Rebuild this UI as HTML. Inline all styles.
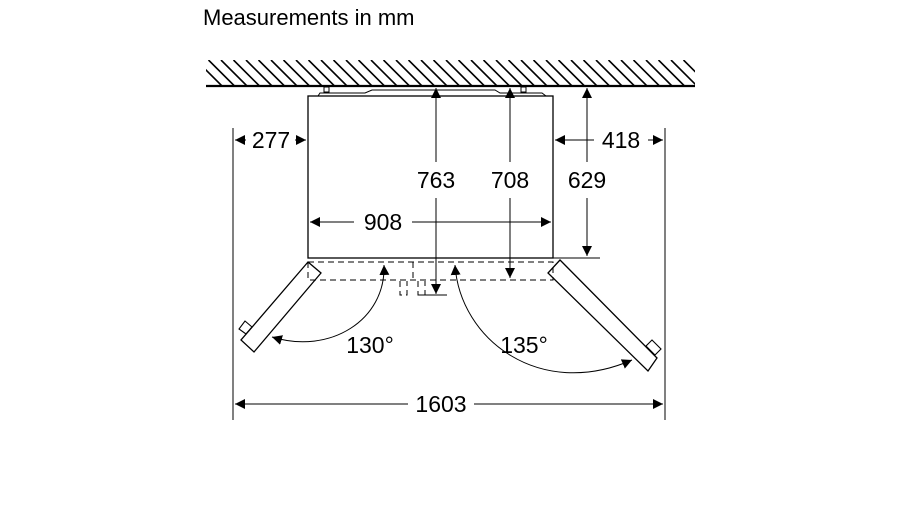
<!DOCTYPE html>
<html><head><style>body{margin:0;background:#fff}svg{display:block}</style></head><body>
<svg width="900" height="506" viewBox="0 0 900 506" xmlns="http://www.w3.org/2000/svg" font-family="Liberation Sans, sans-serif">
<defs>
<marker id="a" viewBox="0 0 10 10" refX="10" refY="5" markerWidth="10" markerHeight="10" markerUnits="userSpaceOnUse" orient="auto-start-reverse"><path d="M0,0 L10,5 L0,10z" fill="#000"/></marker>
<clipPath id="c"><rect x="206" y="60" width="489" height="26"/></clipPath>
</defs>
<text x="203" y="25" font-size="22">Measurements in mm</text>
<g clip-path="url(#c)" stroke="#000" stroke-width="1.6">
<path d="M196,60l26,26M208.5,60l26,26M221,60l26,26M233.5,60l26,26M246,60l26,26M258.5,60l26,26M271,60l26,26M283.5,60l26,26M296,60l26,26M308.5,60l26,26M321,60l26,26M333.5,60l26,26M346,60l26,26M358.5,60l26,26M371,60l26,26M383.5,60l26,26M396,60l26,26M408.5,60l26,26M421,60l26,26M433.5,60l26,26M446,60l26,26M458.5,60l26,26M471,60l26,26M483.5,60l26,26M496,60l26,26M508.5,60l26,26M521,60l26,26M533.5,60l26,26M546,60l26,26M558.5,60l26,26M571,60l26,26M583.5,60l26,26M596,60l26,26M608.5,60l26,26M621,60l26,26M633.5,60l26,26M646,60l26,26M658.5,60l26,26M671,60l26,26M683.5,60l26,26"/>
</g>
<g fill="none" stroke="#000">
<line x1="206" y1="86" x2="695" y2="86" stroke-width="2.2"/>
<rect x="308" y="96" width="245" height="162" stroke-width="1.3"/>
<path d="M318,96 L320,93 L365,93 L372,90 L495,90 L500,93 L542,93 L546,96" stroke-width="1"/>
<rect x="324" y="87" width="5" height="5" stroke-width="1"/>
<rect x="521" y="87" width="5" height="5" stroke-width="1"/>
<g stroke-dasharray="6,4" stroke-width="1">
<rect x="308" y="262" width="245" height="18"/>
<line x1="413" y1="262" x2="413" y2="280"/>
<path d="M400,281v14h7v-14M418,281v14h7v-14"/>
</g>
<polygon points="308,262 321,273 254,352 241,340" stroke-width="1.3"/>
<polygon points="252,327 246,334 239,329 245,321" stroke-width="1.1"/>
<polygon points="560,260 548,273 648,371 657,358" stroke-width="1.3"/>
<polygon points="646,346 655,355 661,349 652,340" stroke-width="1.1"/>
<g stroke-width="1">
<line x1="233" y1="128" x2="233" y2="420"/>
<line x1="665" y1="128" x2="665" y2="420"/>
<line x1="553" y1="258" x2="600" y2="258"/>
<line x1="420" y1="295" x2="447" y2="295"/>
<line x1="235" y1="404" x2="408" y2="404" marker-start="url(#a)"/>
<line x1="474" y1="404" x2="663" y2="404" marker-end="url(#a)"/>
<line x1="235" y1="140" x2="246" y2="140" marker-start="url(#a)"/>
<line x1="295" y1="140" x2="306" y2="140" marker-end="url(#a)"/>
<line x1="555" y1="140" x2="594" y2="140" marker-start="url(#a)"/>
<line x1="648" y1="140" x2="663" y2="140" marker-end="url(#a)"/>
<line x1="310" y1="222" x2="354" y2="222" marker-start="url(#a)"/>
<line x1="412" y1="222" x2="551" y2="222" marker-end="url(#a)"/>
<line x1="436" y1="88" x2="436" y2="162" marker-start="url(#a)"/>
<line x1="436" y1="198" x2="436" y2="294" marker-end="url(#a)"/>
<line x1="510" y1="88" x2="510" y2="162" marker-start="url(#a)"/>
<line x1="510" y1="198" x2="510" y2="278" marker-end="url(#a)"/>
<line x1="587" y1="88" x2="587" y2="162" marker-start="url(#a)"/>
<line x1="587" y1="198" x2="587" y2="256" marker-end="url(#a)"/>
<path d="M384,265 C386,320 330,355 272,337" marker-start="url(#a)" marker-end="url(#a)"/>
<path d="M455,265 C460,340 540,400 632,360" marker-start="url(#a)" marker-end="url(#a)"/>
</g>
</g>
<g font-size="23" text-anchor="middle">
<text x="441" y="412">1603</text>
<text x="271" y="148">277</text>
<text x="621" y="148">418</text>
<text x="383" y="230">908</text>
<text x="436" y="188">763</text>
<text x="510" y="188">708</text>
<text x="587" y="188">629</text>
<text x="370" y="353">130°</text>
<text x="524" y="353">135°</text>
</g>
</svg>
</body></html>
